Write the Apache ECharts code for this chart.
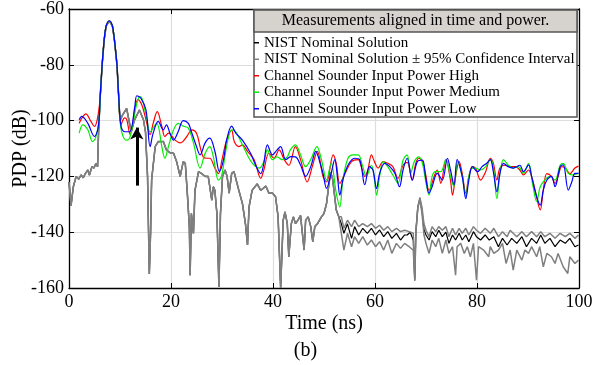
<!DOCTYPE html>
<html>
<head>
<meta charset="utf-8">
<script src="https://cdn.jsdelivr.net/npm/echarts/dist/echarts.min.js"></script>
<style>
html, body { margin: 0; padding: 0; background: #fff; }
#main { width: 611px; height: 365px; }
</style>
</head>
<body>
<div id="main"></div>
<script>
// ---- data: [time ns, PDP dB] ----
var mainLobe = [[6.1,-92],[6.5,-80],[6.9,-71],[7.3,-66],[7.9,-64.3],[8.5,-66],[8.9,-71],[9.4,-80],[9.7,-90]];

var grayLead = [[0.0,-122],[0.4,-130.5],[0.85,-123.7],[1.4,-120],[1.9,-121],[2.35,-119.5],[2.8,-120.5],[3.2,-119],
  [3.7,-117.7],[4.0,-119.5],[4.5,-116.5],[4.9,-117],[5.3,-115.3],[5.6,-116.5],[5.8,-104]];

var grayMid = [[10.0,-100],[10.5,-98],[11.3,-95.6],[12.2,-104],[12.8,-100],[13.8,-96.2],[14.6,-99.7],[15.0,-104],
  [15.4,-120],[15.75,-155],[16.0,-140],[16.2,-121.3],[16.9,-109.3],[17.5,-107.5],[18.5,-107.5],[19.1,-110.5],
  [19.8,-111.5],[20.5,-111.7],[21.1,-114.7],[21.8,-120],[22.4,-114.7],[22.8,-115.3],[23.2,-126],[23.6,-138],
  [23.75,-155.4],[24.0,-133.3],[24.4,-140.4],[24.7,-125],[25.4,-118.3],[26.0,-119],[26.7,-120],[27.3,-120],
  [28.0,-128.5],[28.3,-123.7],[28.6,-125],[29.0,-133.3],[29.4,-159.6],[29.7,-133.3],[30.1,-120],[30.6,-117.7],
  [31.0,-120],[31.4,-126],[31.9,-118.9],[32.35,-118.3],[33.3,-125],[34.0,-129.7],[34.6,-137],[35.0,-144.6],
  [35.3,-131],[35.9,-125],[36.9,-122.7],[37.6,-125],[38.6,-123.5],[39.2,-126],[39.9,-126],[40.5,-127.3],
  [41.0,-134.5],[41.5,-160],[42.0,-135.7],[42.35,-132.7],[42.8,-136.9],[43.1,-148.8],[43.6,-136.9],[44.0,-134.5],
  [44.4,-136.9],[44.9,-135.7],[45.4,-134],[45.7,-139.3],[46.1,-146.4],[46.4,-135.7],[46.9,-134.5],[47.4,-138],
  [47.8,-143.4],[48.2,-138],[48.7,-137],[49.5,-134.5],[50.0,-133.3],[50.5,-129.7],[50.9,-123.7],[51.3,-118.5],
  [51.7,-121],[52.4,-132],[52.9,-134.5]];

var nominalTail = [[53.4,-137],[53.9,-140.4],[54.6,-137],[55.4,-142.2],[56.0,-138],[56.8,-141],[57.6,-138.6],
  [58.5,-140.4],[59.3,-138.6],[60.1,-141],[60.9,-139.2],[61.7,-141.6],[62.5,-139.8],[63.3,-142.2],[64.2,-140.4],
  [65.0,-142.8],[65.8,-141],[66.3,-141],[66.9,-140],[67.5,-142.8],[67.8,-157],[68.0,-140],[68.4,-131],[68.8,-128],
  [69.2,-132],[69.6,-139],[70.0,-141],[70.6,-142.8],[71.2,-139.8],[71.9,-141.6],[72.5,-139.3],[73.2,-141.6],
  [73.9,-140],[74.5,-144],[75.2,-141],[75.8,-142.8],[76.5,-140.4],[77.1,-142.8],[77.8,-141],[78.4,-143.4],
  [79.3,-139.8],[79.9,-141.6],[80.7,-142.8],[81.6,-141],[82.4,-142.8],[83.3,-141.6],[84.2,-145.2],[85.0,-142.2],
  [85.9,-144.6],[86.8,-142.2],[87.8,-144],[88.8,-141.6],[89.7,-145.2],[90.7,-142.2],[91.7,-144],[92.5,-141],
  [93.3,-144],[94.3,-142.2],[95.3,-145.2],[96.3,-142.8],[97.3,-144],[98.2,-142.2],[99.2,-145.2],[99.9,-144.6]];

var upperTail = [[53.4,-134.5],[53.9,-138.6],[54.6,-135.7],[55.4,-138],[56.0,-135.7],[56.8,-138],[57.6,-136.9],
  [58.5,-138],[59.3,-136.9],[60.1,-138.6],[60.9,-137.5],[61.7,-139.3],[62.5,-138],[63.3,-139.8],[64.2,-138.6],
  [65.0,-139.8],[65.8,-139.3],[66.7,-139.8],[67.5,-140.4],[67.8,-157],[68.0,-140],[68.4,-131],[68.8,-127.5],
  [69.2,-131],[69.6,-137],[70.0,-139.3],[70.6,-141.6],[71.2,-138],[71.9,-139.8],[72.5,-138],[73.2,-139.3],
  [73.9,-138],[74.5,-141.6],[75.2,-138.6],[75.8,-141],[76.5,-138.6],[77.1,-140.4],[77.8,-138.6],[78.4,-141],
  [79.3,-138],[79.9,-139.3],[80.7,-140.4],[81.6,-138.6],[82.6,-140.4],[83.3,-138.6],[84.2,-141.6],[85.0,-139.8],
  [85.9,-141.6],[86.5,-139.3],[87.8,-141.6],[88.8,-139.8],[89.7,-141.6],[90.7,-139.8],[91.7,-141.6],[92.5,-139.8],
  [93.3,-141.6],[94.3,-140.4],[95.3,-142.2],[96.3,-140.4],[97.3,-141.6],[98.2,-140.4],[99.2,-142.2],[99.9,-141]];

var lowerTail = [[53.4,-140.4],[53.9,-146.4],[54.6,-140.4],[55.4,-145.2],[56.0,-141.6],[56.8,-144],[57.6,-141.6],
  [58.5,-144.6],[59.3,-142.8],[60.1,-145.2],[60.9,-143.4],[61.7,-146.4],[62.5,-142.8],[63.3,-147.6],[64.2,-144],
  [65.0,-145.8],[65.8,-144],[66.7,-145.2],[67.5,-146.4],[67.8,-157.5],[68.0,-141],[68.4,-131],[68.8,-128.5],
  [69.2,-133],[69.6,-141],[70.0,-144],[70.6,-147.6],[71.2,-142.8],[71.9,-145.2],[72.5,-142.2],[73.2,-147.6],
  [73.9,-142.8],[74.5,-147.6],[75.2,-145.2],[75.8,-155.4],[76.1,-145.2],[76.8,-144],[77.5,-147.6],[78.1,-145.2],
  [78.7,-148.8],[79.3,-144],[79.9,-157.2],[80.3,-145.2],[81.3,-146.4],[82.3,-148.8],[82.6,-145.2],[83.3,-147.6],
  [84.2,-146.4],[85.0,-144],[85.7,-151.2],[86.5,-146.4],[87.1,-153.6],[87.8,-146.4],[88.8,-150],[89.4,-146.4],
  [90.1,-147.6],[90.7,-145.2],[91.7,-148.8],[92.3,-145.2],[93.0,-152.4],[93.7,-147.6],[94.6,-148.8],[95.3,-151.2],
  [95.9,-147.6],[96.9,-152.4],[97.8,-154.8],[98.2,-148.8],[99.2,-151.2],[99.9,-150]];

var highPre = [[2.0,-101],[2.4,-99.5],[3.3,-97.6],[4.3,-100.3],[5.0,-102.1],[5.6,-99.1]];
var highPost = [[10.2,-101.5],[10.9,-99],[11.3,-99.5],[12.0,-105],[12.5,-101],[13.0,-95],[13.5,-92.5],[14.3,-94.5],
  [15.1,-99.7],[15.9,-105],[16.5,-101],[17.3,-96.8],[18.2,-102],[18.8,-105.7],[19.5,-104.5],[20.8,-107],[21.8,-108],
  [23.1,-105.7],[24.1,-103.3],[25.0,-104.5],[25.7,-109.3],[26.3,-113],[27.0,-113.5],[27.6,-113.5],[28.6,-117],
  [29.3,-119],[30.0,-114],[30.9,-107],[31.9,-103.5],[32.4,-107.5],[33.3,-109.3],[34.0,-108.7],[35.0,-111],
  [36.3,-114],[37.6,-120.7],[38.2,-117.7],[39.2,-111.7],[40.2,-113.5],[41.2,-110.5],[42.2,-114],[43.1,-116],
  [44.4,-109.3],[45.4,-114],[46.7,-122],[47.7,-116.5],[48.7,-111],[49.8,-120],[50.5,-122],[51.8,-112.3],
  [52.4,-115.3],[53.1,-122.5],[54.1,-119],[55.4,-114.7],[56.7,-114],[57.3,-116.5],[58.0,-120],[58.6,-117.7],
  [59.3,-112.3],[59.9,-114.7],[60.6,-117],[61.6,-114.7],[62.5,-115.3],[63.5,-116.5],[64.5,-120.7],[65.5,-116],
  [66.3,-115],[67.3,-121.3],[68.0,-115.3],[68.6,-113.5],[69.3,-114.7],[69.9,-119],[70.6,-125],[71.6,-120],
  [72.2,-117.7],[72.9,-122.5],[73.9,-114],[74.8,-121.3],[75.2,-126.7],[75.8,-120],[76.5,-114.7],[77.1,-118.9],
  [77.8,-126],[78.4,-120],[79.1,-116.5],[79.7,-117],[80.7,-121.3],[81.7,-118.3],[82.6,-113.5],[83.2,-115.3],
  [83.9,-121.3],[84.5,-117],[85.5,-116],[86.5,-116.5],[87.5,-116.5],[88.4,-117.7],[89.1,-119.5],[90.1,-117.7],
  [90.7,-120],[91.4,-125],[92.4,-132],[93.0,-124.9],[93.7,-119],[94.6,-120],[95.3,-122.5],[95.9,-120],
  [96.6,-116.5],[97.3,-117],[98.2,-119],[99.2,-117],[99.9,-116.3]];

var mediumPre = [[2.0,-104.5],[2.7,-101.5],[3.7,-103.3],[4.6,-107.5],[5.2,-106.3],[5.9,-99.7]];
var mediumPost = [[10.2,-103],[11.2,-107],[11.9,-106.3],[13.3,-93.8],[13.9,-91.4],[14.4,-92.6],[15.3,-99.7],
  [15.9,-104],[17.2,-101],[18.2,-109.3],[18.8,-113.5],[19.5,-109.3],[20.5,-103.3],[21.4,-101],[22.4,-102],
  [23.4,-102.7],[24.4,-108],[25.7,-117],[26.7,-111.7],[27.6,-109.3],[28.3,-113],[29.3,-121.3],[29.9,-120],
  [30.9,-109.3],[31.9,-103.3],[32.7,-104],[33.7,-107.5],[35.3,-113.5],[36.3,-116],[37.3,-117],[38.2,-114.7],
  [38.9,-110.5],[39.9,-114],[40.8,-113],[41.8,-114],[42.8,-113],[43.4,-110.5],[44.4,-108.7],[45.4,-112.3],
  [46.4,-116.5],[47.4,-114],[48.6,-109.3],[49.5,-114],[50.5,-121.3],[51.4,-115.3],[52.4,-126],[53.1,-131],
  [53.7,-121.3],[54.7,-113.5],[55.7,-112.3],[56.7,-112.3],[57.6,-116.5],[58.3,-120],[59.3,-116],[59.9,-121.3],
  [60.3,-126.7],[60.9,-120],[61.6,-114.7],[62.5,-116.5],[63.5,-119.5],[64.5,-122.5],[65.5,-114.2],[66.3,-112.3],
  [67.0,-118.9],[67.7,-114.7],[68.6,-113],[69.3,-115.3],[69.9,-121.3],[70.6,-126.7],[71.2,-120],[71.9,-118.3],
  [72.9,-118.3],[73.9,-114],[74.8,-120],[75.5,-123.7],[76.2,-114.7],[77.1,-120],[77.8,-127.3],[78.4,-120],
  [79.1,-117],[79.7,-117],[80.7,-117.7],[81.7,-116.5],[82.6,-114],[83.2,-116.5],[83.9,-128],[84.5,-118.9],
  [85.2,-114],[86.1,-115.9],[87.1,-117],[88.1,-116.5],[89.1,-118.9],[90.1,-115.3],[91.0,-123.7],[91.7,-129],
  [92.4,-123.7],[93.3,-121.3],[94.3,-120],[95.3,-121.3],[96.3,-116],[96.9,-115.3],[97.9,-118.9],[98.9,-119.5],
  [99.9,-118.9]];

var lowPre = [[2.0,-99.7],[2.5,-98.5],[3.7,-101],[5.0,-105.7],[5.6,-103.5],[5.9,-99.7]];
var lowPost = [[10.2,-102],[10.9,-104],[11.9,-104],[12.9,-95],[13.3,-91.1],[14.1,-92],[15.1,-96.2],[15.9,-109.3],
  [16.5,-104.5],[17.5,-100.3],[18.5,-103.3],[19.1,-101.5],[19.8,-104.5],[20.5,-107],[21.4,-104],[22.4,-100],
  [23.4,-101],[24.0,-104],[25.0,-109.3],[25.7,-112.3],[26.7,-108],[27.6,-106.3],[28.6,-111],[29.5,-118.3],
  [30.3,-114],[30.9,-107],[31.9,-102],[32.7,-104.5],[34.0,-107],[35.6,-111.7],[36.6,-116],[37.6,-119],
  [38.2,-115.3],[38.9,-108.7],[39.9,-112.3],[40.8,-110.5],[41.5,-109.3],[42.5,-114],[43.5,-112.9],[44.4,-113],
  [45.4,-115.9],[46.4,-120],[47.4,-116.5],[48.4,-111],[49.2,-115],[49.8,-118.9],[50.5,-124.3],[51.4,-118.9],
  [52.1,-114],[52.7,-121.3],[53.1,-126.7],[53.7,-121.3],[54.7,-116],[56.0,-113.5],[57.0,-114],[58.0,-123],
  [58.9,-116.5],[59.6,-117.7],[60.3,-124.3],[60.9,-119],[61.9,-115.3],[62.9,-116.5],[63.9,-118.9],[64.8,-123.7],
  [65.5,-117.7],[66.3,-113.5],[67.3,-121.3],[68.3,-114.7],[69.3,-114.2],[69.9,-120],[70.6,-126],[71.2,-123.7],
  [72.2,-118.9],[73.2,-121.3],[74.2,-113.5],[74.8,-117.7],[75.5,-123],[76.1,-114],[77.1,-120],[77.8,-128],
  [78.4,-121.3],[79.1,-116.5],[80.1,-118.3],[81.0,-116.5],[81.9,-115.3],[82.6,-114],[83.2,-118.3],[83.9,-125.5],
  [84.5,-118.9],[85.2,-115.3],[86.1,-116.5],[87.1,-117],[88.4,-116],[89.1,-118.3],[90.1,-115.9],[90.7,-120],
  [91.7,-127.3],[92.4,-130.3],[93.0,-124.9],[93.7,-121.3],[94.6,-120],[95.3,-123.7],[96.3,-116.5],[96.9,-115.9],
  [97.9,-124.9],[98.6,-121.9],[99.2,-118.9],[99.9,-118.9]];

// arrow annotation (data coords)
var arrowFrom = [13.3, -123.3];
var arrowTo = [13.3, -102.5];

var names = ['NIST Nominal Solution', 'NIST Nominal Solution \u00b1 95% Confidence Interval',
  'Channel Sounder Input Power High', 'Channel Sounder Input Power Medium', 'Channel Sounder Input Power Low'];

var FONT = 'Liberation Serif';
var myChart = echarts.init(document.getElementById('main'));

function lineSeries(name, data, color, width, smooth) {
    return {
        name: name, type: 'line', data: data, symbol: 'none', showSymbol: false,
        smooth: smooth, animation: false, silent: true,
        lineStyle: { color: color, width: width }, itemStyle: { color: color }
    };
}

var grayCommon = grayLead.concat(mainLobe, grayMid);

var option = {
    animation: false,
    backgroundColor: '#fff',
    grid: { left: 69, right: 32, top: 9, bottom: 77, outerBoundsMode: 'none' },
    xAxis: [{
        type: 'value', min: 0, max: 100, interval: 20,
        name: 'Time (ns)', nameLocation: 'middle', nameGap: 26, nameMoveOverlap: false,
        nameTextStyle: { fontFamily: FONT, fontSize: 20, color: '#000' },
        axisLine: { lineStyle: { color: '#000', width: 1.3 } },
        axisTick: { inside: true, length: 5, lineStyle: { color: '#000' } },
        axisLabel: { fontFamily: FONT, fontSize: 18, color: '#000', margin: 5, showMinLabel: true, showMaxLabel: true },
        splitLine: { show: true, lineStyle: { color: '#dedede', width: 1.2 } }
    }, {
        type: 'value', min: 0, max: 100, interval: 20, position: 'top',
        axisLine: { onZero: false, lineStyle: { color: '#000', width: 1.3 } },
        axisTick: { inside: true, length: 5, lineStyle: { color: '#000' } },
        axisLabel: { show: false }, splitLine: { show: false }
    }],
    yAxis: [{
        type: 'value', min: -160, max: -60, interval: 20,
        name: 'PDP (dB)', nameLocation: 'middle', nameGap: 38, nameMoveOverlap: false,
        nameTextStyle: { fontFamily: FONT, fontSize: 20, color: '#000' },
        axisLine: { show: true, onZero: false, lineStyle: { color: '#000', width: 1.3 } },
        axisTick: { show: true, inside: true, length: 5, lineStyle: { color: '#000' } },
        axisLabel: { fontFamily: FONT, fontSize: 18, color: '#000', margin: 5, showMinLabel: true, showMaxLabel: true },
        splitLine: { show: true, lineStyle: { color: '#dedede', width: 1.2 } }
    }, {
        type: 'value', min: -160, max: -60, interval: 20, position: 'right',
        axisLine: { show: true, onZero: false, lineStyle: { color: '#000', width: 1.3 } },
        axisTick: { show: true, inside: true, length: 5, lineStyle: { color: '#000' } },
        axisLabel: { show: false }, splitLine: { show: false }
    }],
    legend: {
        data: names, orient: 'vertical', left: 254, top: 34.5, z: 60, padding: 0,
        icon: 'rect', itemWidth: 5, itemHeight: 1.5, itemGap: 0, selectedMode: false,
        textStyle: { fontFamily: FONT, fontSize: 15, color: '#000', lineHeight: 16.5 }
    },
    graphic: [
        { type: 'rect', z: 50, shape: { x: 254, y: 10, width: 323, height: 107 },
          style: { fill: '#fff', stroke: '#555', lineWidth: 1.5 } },
        { type: 'rect', z: 51, shape: { x: 254, y: 10, width: 323, height: 22 },
          style: { fill: '#d6d3ce', stroke: '#555', lineWidth: 1.5 } },
        { type: 'text', z: 52, x: 415.5, y: 21,
          style: { text: 'Measurements aligned in time and power.', font: '16px "' + FONT + '"',
                   fill: '#000', textAlign: 'center', textVerticalAlign: 'middle' } },
        { type: 'text', z: 52, x: 305.5, y: 351,
          style: { text: '(b)', font: '20px "' + FONT + '"', fill: '#000',
                   textAlign: 'center', textVerticalAlign: 'middle' } }
    ],
    series: [
        lineSeries(names[0], grayCommon.concat(nominalTail), '#000', 1.2, false),
        lineSeries(names[1], grayCommon.concat(upperTail), '#7f7f7f', 1.5, false),
        lineSeries(names[1], grayCommon.concat(lowerTail), '#7f7f7f', 1.5, false),
        lineSeries(names[2], highPre.concat(mainLobe, highPost), '#ff0000', 1.2, 0.35),
        lineSeries(names[3], mediumPre.concat(mainLobe, mediumPost), '#00ee00', 1.2, 0.35),
        lineSeries(names[4], lowPre.concat(mainLobe, lowPost), '#0000ff', 1.2, 0.35),
        {
            name: 'arrow', type: 'line', data: [], silent: true,
            markLine: {
                silent: true, animation: false, symbol: ['none', 'arrow'], symbolSize: [10, 12],
                label: { show: false },
                lineStyle: { color: '#000', width: 3, type: 'solid' },
                data: [[{ coord: arrowFrom }, { coord: arrowTo }]]
            }
        }
    ]
};

myChart.setOption(option);
</script>
</body>
</html>
